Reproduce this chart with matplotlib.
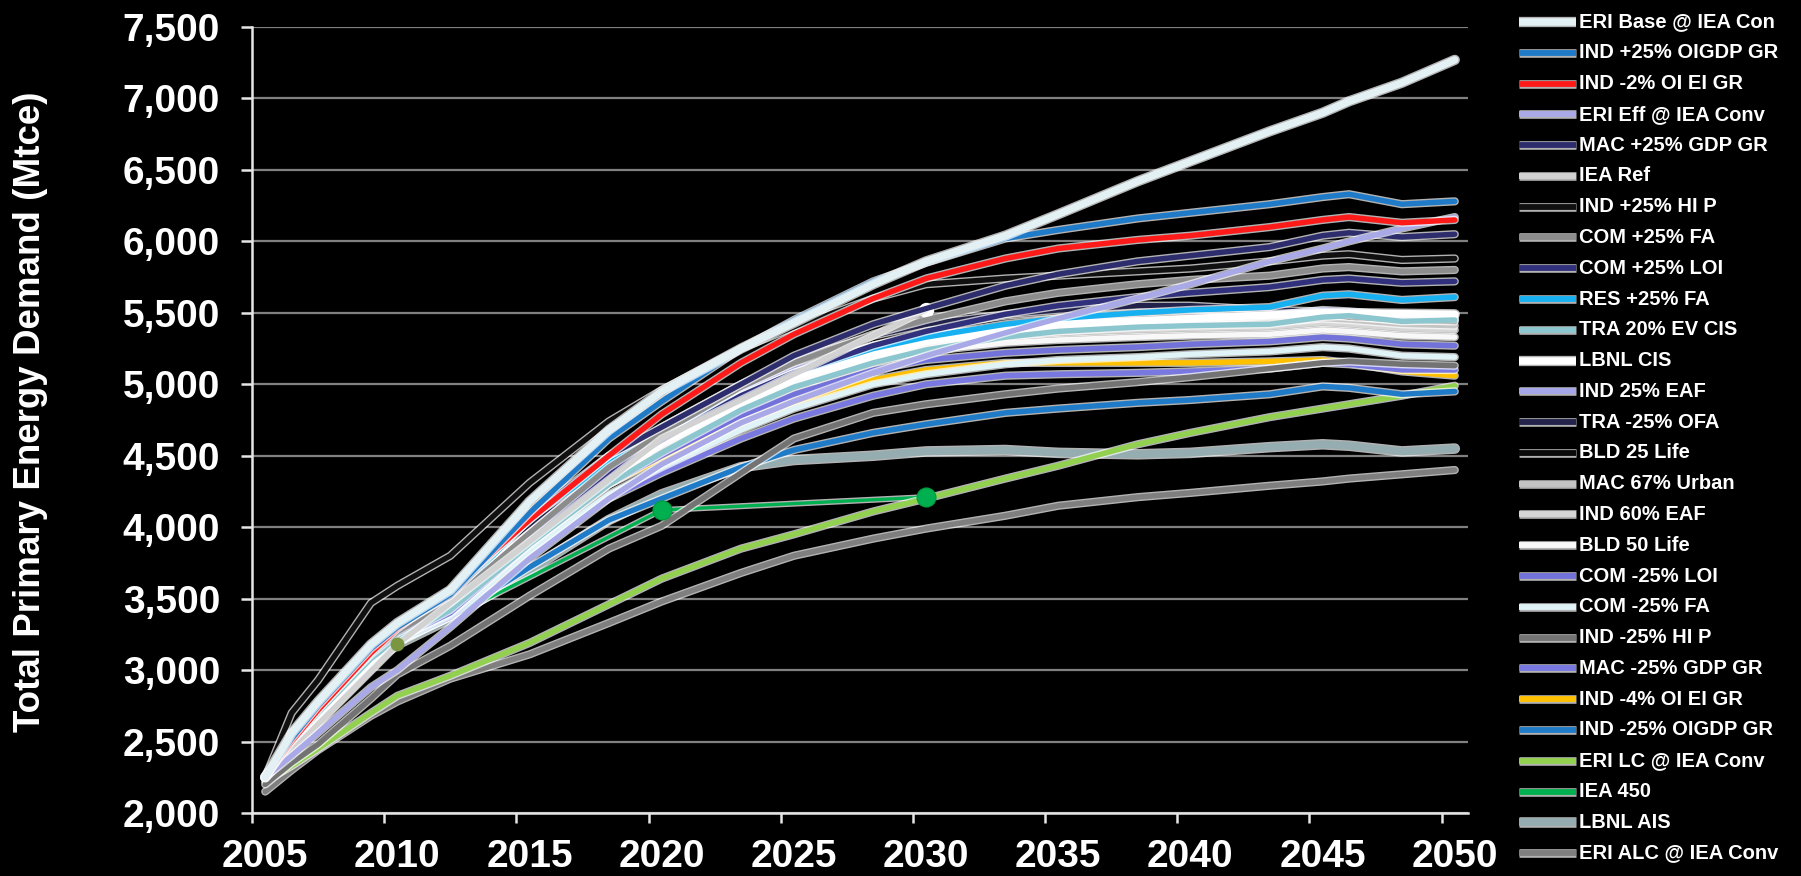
import matplotlib
matplotlib.use('Agg')
import matplotlib.pyplot as plt
import matplotlib.patheffects as pe
from matplotlib.lines import Line2D
from matplotlib.ticker import FuncFormatter

plt.rcParams['font.family'] = ['Liberation Sans', 'DejaVu Sans']

# Scenario years shared by most model runs
years = [2005, 2006, 2007, 2009, 2010, 2012, 2015, 2018, 2020, 2023, 2025,
         2028, 2030, 2033, 2035, 2038, 2040, 2043, 2045, 2046, 2048, 2050]
iea_years = [2005, 2010, 2020, 2030]
lbnl_years = [2005, 2010, 2015, 2020, 2025, 2030, 2035, 2040, 2045, 2050]

# Total primary energy demand, Mtce
eri_base = [2250, 2560, 2780, 3180, 3330, 3560, 4180, 4680, 4950, 5250, 5430,
            5700, 5860, 6040, 6190, 6420, 6560, 6770, 6900, 6980, 7110, 7270]
ind_p25_oigdp = [2250, 2520, 2750, 3150, 3300, 3530, 4100, 4620, 4880, 5250, 5450,
                 5720, 5850, 6020, 6080, 6160, 6200, 6260, 6310, 6330, 6260, 6280]
ind_m2_oiei = [2250, 2500, 2720, 3120, 3290, 3560, 4050, 4500, 4790, 5150, 5350,
               5600, 5740, 5880, 5950, 6010, 6040, 6100, 6150, 6170, 6130, 6150]
eri_eff = [2250, 2400, 2560, 2880, 3000, 3300, 3780, 4200, 4440, 4730, 4880,
           5080, 5200, 5360, 5460, 5600, 5700, 5860, 5950, 6000, 6090, 6170]
mac_p25_gdp = [2250, 2520, 2740, 3140, 3310, 3520, 4080, 4500, 4700, 5000, 5200,
               5420, 5530, 5690, 5770, 5860, 5900, 5960, 6040, 6060, 6030, 6050]
iea_ref = [2250, 3180, 4620, 5520]
ind_p25_hip = [2250, 2700, 2930, 3470, 3590, 3800, 4310, 4740, 4960, 5250, 5400,
               5600, 5700, 5740, 5760, 5790, 5810, 5860, 5900, 5910, 5870, 5880]
com_p25_fa = [2250, 2520, 2740, 3120, 3270, 3480, 3960, 4420, 4660, 4980, 5150,
              5350, 5450, 5580, 5640, 5700, 5730, 5760, 5810, 5820, 5790, 5800]
com_p25_loi = [2250, 2510, 2730, 3110, 3260, 3470, 3940, 4380, 4610, 4920, 5080,
               5270, 5370, 5490, 5550, 5610, 5640, 5680, 5730, 5740, 5710, 5720]
res_p25_fa = [2250, 2560, 2760, 3150, 3310, 3500, 4060, 4450, 4640, 4920, 5080,
              5250, 5330, 5420, 5460, 5500, 5520, 5540, 5620, 5630, 5590, 5610]
tra_20_ev = [2250, 2500, 2700, 3080, 3220, 3420, 3880, 4300, 4520, 4820, 4980,
             5150, 5240, 5330, 5370, 5400, 5410, 5420, 5470, 5480, 5440, 5450]
lbnl_cis = [2250, 3250, 3950, 4600, 5050, 5300, 5420, 5460, 5500, 5490]
ind_25_eaf = [2250, 2520, 2730, 3110, 3260, 3450, 3960, 4420, 4650, 4950, 5100,
              5270, 5340, 5400, 5420, 5440, 5450, 5480, 5520, 5510, 5480, 5480]
tra_m25_ofa = [2250, 2520, 2740, 3130, 3280, 3480, 3990, 4460, 4700, 5000, 5170,
               5340, 5420, 5490, 5520, 5550, 5550, 5520, 5510, 5490, 5470, 5460]
bld_25 = [2250, 2520, 2730, 3120, 3270, 3470, 3980, 4450, 4680, 4980, 5140,
          5320, 5400, 5480, 5510, 5530, 5530, 5500, 5490, 5470, 5450, 5440]
mac_67_urban = [2250, 2520, 2730, 3110, 3260, 3460, 3970, 4420, 4640, 4930, 5080,
                5240, 5310, 5370, 5390, 5410, 5420, 5430, 5460, 5450, 5420, 5410]
ind_60_eaf = [2250, 2510, 2720, 3100, 3250, 3440, 3950, 4400, 4610, 4900, 5040,
              5210, 5280, 5340, 5360, 5380, 5390, 5400, 5430, 5420, 5390, 5380]
bld_50 = [2250, 2510, 2720, 3100, 3240, 3430, 3920, 4360, 4570, 4860, 5000,
          5160, 5230, 5290, 5310, 5330, 5340, 5350, 5380, 5370, 5340, 5330]
com_m25_loi = [2250, 2500, 2700, 3080, 3220, 3400, 3880, 4300, 4500, 4780, 4930,
               5100, 5170, 5220, 5240, 5260, 5280, 5300, 5330, 5320, 5280, 5270]
com_m25_fa = [2250, 2490, 2690, 3060, 3200, 3380, 3830, 4230, 4420, 4680, 4830,
              5000, 5070, 5140, 5170, 5190, 5210, 5230, 5260, 5250, 5200, 5190]
ind_m25_hip = [2200, 2350, 2480, 2800, 2970, 3170, 3520, 3850, 4010, 4380, 4620,
               4800, 4860, 4930, 4970, 5015, 5050, 5110, 5150, 5160, 5140, 5130]
mac_m25_gdp = [2250, 2480, 2680, 3050, 3200, 3370, 3850, 4200, 4380, 4620, 4760,
               4920, 5000, 5060, 5070, 5080, 5090, 5110, 5150, 5140, 5100, 5100]
ind_m4_oiei = [2250, 2500, 2700, 3080, 3230, 3420, 3930, 4300, 4480, 4730, 4870,
               5030, 5100, 5150, 5150, 5150, 5150, 5160, 5170, 5150, 5090, 5060]
ind_m25_oigdp = [2250, 2480, 2690, 3070, 3200, 3370, 3720, 4050, 4200, 4420, 4540,
                 4660, 4720, 4800, 4830, 4870, 4890, 4930, 4985, 4975, 4930, 4950]
eri_lc = [2220, 2330, 2450, 2700, 2820, 2960, 3190, 3460, 3640, 3850, 3950,
          4110, 4200, 4340, 4430, 4580, 4660, 4770, 4830, 4860, 4920, 4990]
iea_450 = [2250, 3180, 4120, 4210]
lbnl_ais = [2250, 2480, 2680, 3050, 3180, 3360, 3700, 4050, 4230, 4420, 4470,
            4500, 4530, 4540, 4520, 4510, 4520, 4560, 4580, 4570, 4530, 4550]
eri_alc = [2150, 2300, 2440, 2680, 2780, 2940, 3110, 3330, 3480, 3680, 3800,
           3920, 3990, 4080, 4150, 4210, 4240, 4290, 4320, 4340, 4370, 4400]

# label, x, y, colour, line width
series = [
    ('ERI Base @ IEA Con', years, eri_base, '#e3f1f5', 5.4),
    ('IND +25% OIGDP GR', years, ind_p25_oigdp, '#1f7bc8', 3.9),
    ('IND -2% OI EI GR', years, ind_m2_oiei, '#ff1a1a', 3.9),
    ('ERI Eff @ IEA Conv', years, eri_eff, '#a9a9e8', 3.9),
    ('MAC +25% GDP GR', years, mac_p25_gdp, '#2d2d6e', 3.9),
    ('IEA Ref', iea_years, iea_ref, '#d2d2d2', 3.9),
    ('IND +25% HI P', years, ind_p25_hip, '#101010', 3.9),
    ('COM +25% FA', years, com_p25_fa, '#8c8c8c', 3.9),
    ('COM +25% LOI', years, com_p25_loi, '#30307c', 3.9),
    ('RES +25% FA', years, res_p25_fa, '#17b0f0', 3.9),
    ('TRA 20% EV CIS', years, tra_20_ev, '#8cc6ce', 3.9),
    ('LBNL CIS', lbnl_years, lbnl_cis, '#ffffff', 5.4),
    ('IND 25% EAF', years, ind_25_eaf, '#a6a6ea', 3.9),
    ('TRA -25% OFA', years, tra_m25_ofa, '#22224a', 3.9),
    ('BLD 25 Life', years, bld_25, '#0a0a0a', 3.9),
    ('MAC 67% Urban', years, mac_67_urban, '#c4c4c4', 3.9),
    ('IND 60% EAF', years, ind_60_eaf, '#d6d6d6', 3.9),
    ('BLD 50 Life', years, bld_50, '#f8f8f8', 3.9),
    ('COM -25% LOI', years, com_m25_loi, '#7272da', 3.9),
    ('COM -25% FA', years, com_m25_fa, '#e0f3f7', 3.9),
    ('IND -25% HI P', years, ind_m25_hip, '#737373', 3.9),
    ('MAC -25% GDP GR', years, mac_m25_gdp, '#7878e0', 3.9),
    ('IND -4% OI EI GR', years, ind_m4_oiei, '#ffc000', 3.9),
    ('IND -25% OIGDP GR', years, ind_m25_oigdp, '#1f7bc8', 3.9),
    ('ERI LC @ IEA Conv', years, eri_lc, '#92d050', 3.9),
    ('IEA 450', iea_years, iea_450, '#00b050', 2.4),
    ('LBNL AIS', years, lbnl_ais, '#95adb0', 5.6),
    ('ERI ALC @ IEA Conv', years, eri_alc, '#7f7f7f', 3.9),
]

W, H = 1801, 876
fig = plt.figure(figsize=(W / 100, H / 100), dpi=100, facecolor='black')
ax = fig.add_axes([252 / W, 63 / H, (1468 - 252) / W, (813 - 27) / H])
ax.set_facecolor('black')


def edge(lw):
    # light rim round each line, so dark series stay visible on black
    return [pe.Stroke(linewidth=lw + 2.0, foreground='white', alpha=0.7), pe.Normal()]


n = len(series)
for i, (label, xs, ys, color, lw) in enumerate(series):
    ax.plot(xs, ys, color=color, lw=lw, solid_capstyle='round',
            solid_joinstyle='round', zorder=10 + n - i, path_effects=edge(lw))

# IEA scenario markers
ax.plot(iea_years[3:], iea_ref[3:], 'o', color='white', ms=10, zorder=12)
ax.plot(iea_years[1:2], iea_450[1:2], 'o', color='#7a9640', ms=9, zorder=10 + n)
ax.plot(iea_years[2:], iea_450[2:], 'o', color='#00b050', ms=13.5,
        markeredgecolor='#00a040', zorder=10 + n)

ax.set_xlim(2004.5, 2050.5)
ax.set_ylim(2000, 7500)
ax.set_yticks(range(2000, 7501, 500))
ax.yaxis.set_major_formatter(FuncFormatter(lambda v, p: f'{int(v):,}'))
ax.set_xticks(range(2005, 2051, 5))
ax.set_xticks([2004.5 + 5 * k for k in range(10)], minor=True)

ax.yaxis.grid(True, color='#808080', lw=1.6)
ax.set_axisbelow(True)
for side in ('top', 'right'):
    ax.spines[side].set_visible(False)
for side in ('left', 'bottom'):
    ax.spines[side].set_color('#e6e6e6')
    ax.spines[side].set_linewidth(1.8)

ax.tick_params(axis='x', which='major', length=0, pad=19, labelsize=28,
               labelcolor='white')
ax.tick_params(axis='x', which='minor', length=7.5, width=1.8, color='#e6e6e6')
ax.tick_params(axis='y', length=8, width=1.8, color='#e6e6e6', pad=15,
               labelsize=28, labelcolor='white')
for t in ax.get_xticklabels() + ax.get_yticklabels():
    t.set_fontweight('bold')

fig.text(31 / W, 1 - 412 / H, 'Total Primary Energy Demand (Mtce)', rotation=90,
         ha='center', va='center', fontsize=26.5, fontweight='bold', color='white')

# legend column
for i, (label, xs, ys, color, lw) in enumerate(series):
    yc = 1 - (22 + 30.78 * i) / H
    hw = max(lw, 4.2)
    fig.add_artist(Line2D([1519 / W, 1576 / W], [yc, yc], transform=fig.transFigure,
                          color=color, lw=hw, solid_capstyle='butt',
                          path_effects=edge(hw)))
    fig.text(1579 / W, yc, label, color='white', fontsize=14.5, fontweight='bold',
             ha='left', va='center')

fig.savefig('out.png', dpi=100, facecolor='black')
